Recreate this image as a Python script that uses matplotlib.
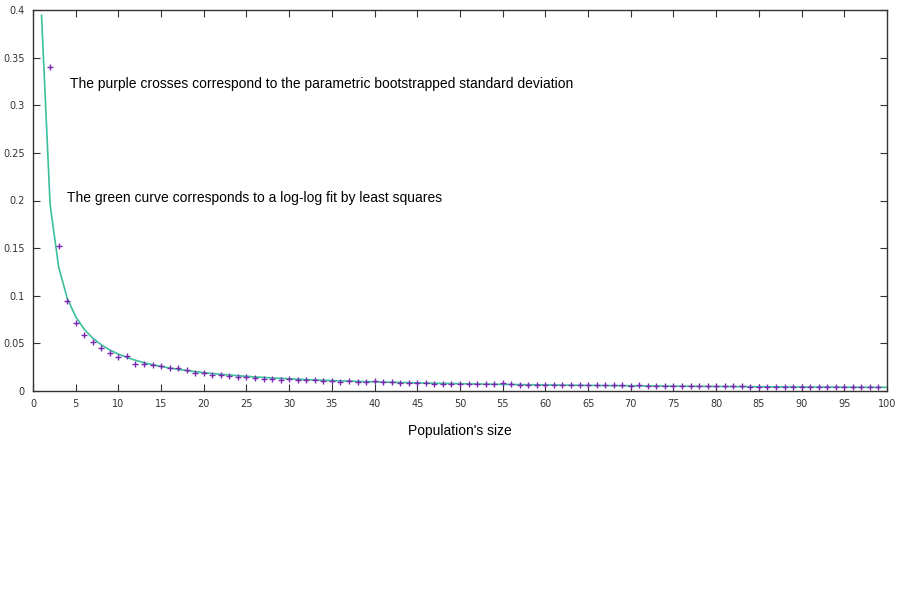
import numpy as np
import matplotlib
matplotlib.use("Agg")
import matplotlib.pyplot as plt

# population sizes and bootstrapped std
sizes = list(range(2, 100))
std_boot = [0.340, 0.152, 0.094, 0.071, 0.059, 0.051, 0.045, 0.040, 0.036, 0.037,
            0.028, 0.028, 0.027, 0.026, 0.024, 0.024, 0.022, 0.019, 0.019, 0.017,
            0.017, 0.016, 0.015, 0.015, 0.014, 0.013, 0.013, 0.012, 0.013, 0.012,
            0.012, 0.012, 0.010, 0.010, 0.0095, 0.010, 0.0098, 0.0096, 0.0102, 0.0094,
            0.0092, 0.0082, 0.0084, 0.0080, 0.0088, 0.0076, 0.0074, 0.0076, 0.0076, 0.0078,
            0.0072, 0.0070, 0.0072, 0.0080, 0.0070, 0.0068, 0.0068, 0.0062, 0.0064, 0.0064,
            0.0066, 0.0062, 0.0062, 0.0060, 0.0058, 0.0066, 0.0058, 0.0058, 0.0054, 0.0058,
            0.0054, 0.0054, 0.0052, 0.0052, 0.0050, 0.0052, 0.0048, 0.0052, 0.0050, 0.0048,
            0.0050, 0.0052, 0.0046, 0.0045, 0.0044, 0.0044, 0.0044, 0.0044, 0.0043, 0.0040,
            0.0042, 0.0042, 0.0040, 0.0040, 0.0041, 0.0042, 0.0038, 0.0037]
fit_sizes = list(range(1, 101))

xticks = list(range(0, 101, 5))
yticks = [0, 0.05, 0.1, 0.15, 0.2, 0.25, 0.3, 0.35, 0.4]
ytick_labels = ["0", "0.05", "0.1", "0.15", "0.2", "0.25", "0.3", "0.35", "0.4"]

# log-log least squares fit
b, loga = np.polyfit(np.log(sizes), np.log(std_boot), 1)
fit_vals = np.exp(loga) * np.array(fit_sizes, dtype=float) ** b

fig = plt.figure(figsize=(9.04, 6.14), dpi=100)
ax = fig.add_axes([33/904, 223/614, 854/904, 381/614])

ax.plot(fit_sizes, fit_vals, color="#3cbf9c", lw=1.2)
ax.plot(sizes, std_boot, ls="none", marker="+", color="#7a28b0", ms=5, mew=1.0)

ax.set_xlim(0, 100)
ax.set_ylim(0, 0.4)
ax.set_xticks(xticks)
ax.set_yticks(yticks)
ax.set_yticklabels(ytick_labels)
ax.tick_params(direction="in", length=5, width=0.8, top=True, right=True,
               labelsize=7, colors="#333333", pad=6)
for s in ax.spines.values():
    s.set_color("#333333")
    s.set_linewidth(1)

ax.text(4.3, 0.322, "The purple crosses correspond to the parametric bootstrapped standard deviation",
        fontsize=10, family="Liberation Sans", va="center")
ax.text(4.0, 0.2026, "The green curve corresponds to a log-log fit by least squares",
        fontsize=10, family="Liberation Sans", va="center")

fig.text(460/904, 1 - 431/614, "Population's size", fontsize=10, family="Liberation Sans",
         ha="center", va="center")

fig.savefig("out.png", dpi=100)
